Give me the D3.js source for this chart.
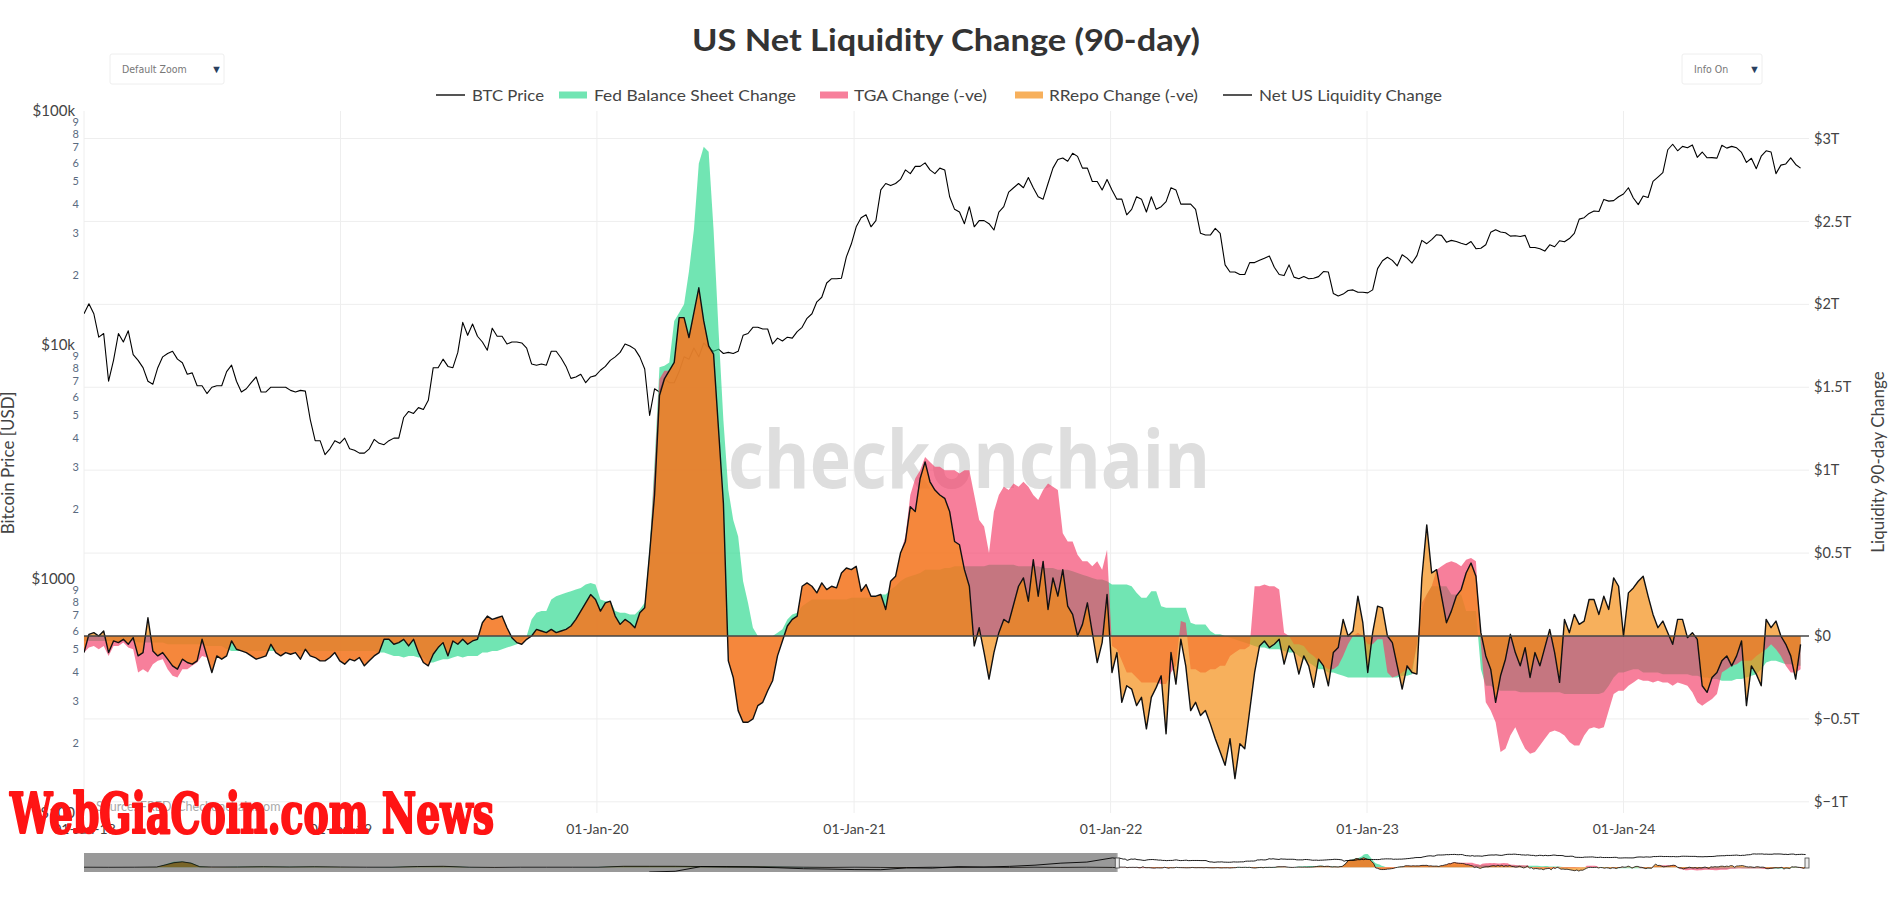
<!DOCTYPE html>
<html><head><meta charset="utf-8">
<script src="https://cdn.jsdelivr.net/npm/d3@7"></script>
<style>
html,body{margin:0;padding:0;background:#fff;}
svg{display:block;font-family:Lato,"Open Sans",sans-serif;}
</style>
</head><body>
<svg id="chart" width="1888" height="902"></svg>
<script>
// ---------------- DATA ----------------
const startDate = "2018-01-01";   // weekly samples
const weekStepDays = 7;
const viewEnd = "2024-09-21";
const sliderStart = "2007-12-18";

const btcPrice = [
13600,15000,13600,10800,11200,7000,8600,11200,10300,11500,9100,8600,8000,7000,6800,8000,8900,9200,9400,8700,8400,7500,7600,6700,6700,6200,6600,6700,6700,7700,8200,7000,6300,6500,6900,7300,6300,6300,6600,6600,6600,6600,6400,6300,6400,6350,4800,3900,3900,3400,3600,3900,3800,
4000,3600,3550,3450,3450,3600,3950,3800,3750,3900,4000,4000,4900,5200,5100,5400,5300,5800,8000,8000,8700,8100,8000,9300,12500,11000,12300,10900,10300,9500,11800,10900,10900,10100,10300,10300,10200,9700,8300,8200,8300,8200,9400,9400,8800,8100,7200,7300,7500,6900,7300,7400,
7800,8100,8600,8900,9300,10100,9900,9600,8900,7900,5000,6500,6300,7200,6900,6900,7700,8900,8700,9700,8900,10200,9700,9400,9600,9200,9300,9200,9400,11000,11200,11900,11900,11700,11700,10100,10700,10400,10800,10700,11400,11900,13000,13600,15300,16000,18400,19200,19200,19300,23800,27000,
32000,35000,36000,32000,34000,46000,49000,48000,49000,51000,56000,54000,58000,58000,60000,56000,54000,57000,56000,43000,38000,37000,33000,39000,32000,34000,34000,33000,31000,37000,39000,45000,47000,49000,47000,52000,47000,43000,42000,49000,57000,62000,63000,61000,66000,64000,57000,57000,50000,50000,46000,51000,
46000,42000,42000,36000,38000,43000,42000,37000,43000,38000,39000,41000,47000,46000,40000,40000,40000,38000,30000,29500,29500,31500,30000,22000,20500,20500,20000,20000,22500,22500,23000,23500,24000,21500,20000,19800,22000,19500,19200,19600,19200,19300,19600,20600,20500,16600,16200,16500,17100,17200,16800,16800,
16700,17200,21200,22900,23700,23000,21800,24300,23500,22400,24100,28000,27100,28200,29600,29400,27500,28000,27700,27200,26800,27700,25800,25900,26800,30300,31100,30400,30200,29200,29300,29100,29400,26100,26100,25800,25200,26800,26300,27900,27600,28500,30000,34500,35000,36500,37400,37200,41900,41200,41400,43000,
44200,47000,42500,39800,43300,42700,50000,52200,54500,68300,72100,67600,70600,69700,71600,63400,66800,63100,63200,62900,71400,69400,70600,69600,66500,60300,62800,56700,64100,67600,66800,54000,58700,59400,63000,59100,57000
];

// 90-day changes, $ trillions (stacked: fed -> +tga -> +rrepo = net)
const fedChange = [
-0.03,-0.03,-0.03,-0.03,-0.03,-0.03,-0.03,-0.03,-0.03,-0.03,-0.03,-0.04,-0.04,-0.04,-0.04,-0.04,-0.04,-0.05,-0.05,-0.05,-0.05,-0.05,-0.05,-0.05,-0.05,-0.06,-0.06,-0.06,-0.06,-0.08,
-0.09,-0.09,-0.09,-0.09,-0.09,-0.09,-0.09,-0.09,-0.09,-0.09,-0.09,-0.09,-0.09,-0.09,-0.09,-0.09,-0.09,-0.09,-0.09,-0.09,-0.09,-0.09,-0.09,-0.09,-0.09,-0.09,-0.09,-0.09,-0.09,-0.09,
-0.10,-0.10,-0.11,-0.12,-0.12,-0.13,-0.12,-0.12,-0.13,-0.13,-0.16,-0.16,-0.15,-0.14,-0.14,-0.13,-0.12,-0.13,-0.12,-0.12,-0.12,-0.10,-0.10,-0.09,-0.09,-0.08,-0.07,-0.06,-0.05,-0.03,0.00,
0.10,0.14,0.15,0.15,0.22,0.24,0.25,0.26,0.27,0.28,0.29,0.31,0.32,0.31,0.22,0.21,0.21,0.15,0.14,0.14,0.13,0.13,0.16,0.20,0.53,1.05,1.62,1.63,1.65,1.90,1.95,2.00,2.20,2.45,2.85,2.95,2.92,2.45,1.85,1.30,0.88,0.70,0.60,0.33,0.20,0.05,0.00,0.00,0.00,0.00,0.02,0.04,0.10,0.13,0.14,0.18,0.20,
0.22,0.22,0.22,0.22,0.22,0.22,0.22,0.22,0.23,0.23,0.23,0.23,0.23,0.24,0.25,0.25,0.28,0.30,0.33,0.35,0.36,0.37,0.38,0.40,0.40,0.40,0.40,0.41,0.41,0.42,0.42,0.42,0.42,
0.42,0.42,0.42,0.43,0.43,0.43,0.43,0.43,0.43,0.42,0.42,0.42,0.42,0.42,0.41,0.41,0.41,0.40,0.40,0.40,0.39,0.38,0.37,0.36,0.35,0.34,0.34,0.33,
0.31,0.31,0.31,0.31,0.30,0.26,0.23,0.23,0.27,0.27,0.18,0.17,0.17,0.17,0.17,0.17,0.08,0.07,0.07,0.07,0.03,0.01,0.01,0.00,-0.01,-0.02,-0.03,-0.04,-0.05,
-0.06,-0.07,-0.07,-0.08,-0.08,-0.08,-0.09,-0.10,-0.10,-0.12,-0.14,-0.16,-0.18,-0.20,-0.20,-0.22,-0.22,-0.23,-0.24,-0.25,-0.25,-0.25,-0.25,-0.25,-0.25,-0.25,-0.25,-0.25,-0.25,-0.25,-0.24,-0.24,
-0.23,-0.05,0.15,0.25,0.30,0.30,0.30,0.30,0.25,0.25,0.25,0.15,0.15,0.15,-0.20,-0.30,-0.30,-0.32,-0.33,-0.33,-0.33,-0.33,-0.34,-0.34,-0.34,-0.34,-0.34,-0.34,-0.34,-0.34,-0.34,
-0.35,-0.35,-0.35,-0.35,-0.35,-0.35,-0.35,-0.35,-0.34,-0.30,-0.25,-0.22,-0.22,-0.21,-0.20,-0.20,-0.22,-0.22,-0.22,-0.22,-0.23,-0.23,-0.23,-0.23,-0.23,-0.23,-0.24,-0.24,-0.25,-0.25,-0.26,-0.26,-0.27,-0.27,-0.27,-0.26,-0.26,-0.25,-0.24,-0.23,-0.20,-0.16,-0.15,-0.15,-0.16,-0.17,-0.17,-0.18,-0.18
];

const tgaChange = [
-0.07,-0.04,-0.03,-0.05,-0.03,-0.09,-0.03,-0.03,-0.01,-0.04,-0.05,-0.18,-0.16,-0.18,-0.13,-0.11,-0.10,-0.15,-0.19,-0.20,-0.15,-0.15,-0.13,-0.11,-0.07,-0.07,-0.16,-0.06,-0.08,-0.04,0.06,0.01,0.00,-0.01,
-0.03,-0.05,-0.04,-0.03,0.04,-0.01,-0.03,-0.01,-0.02,-0.01,-0.05,0.01,-0.03,-0.04,-0.06,-0.06,-0.04,-0.01,-0.06,-0.08,-0.05,-0.06,-0.04,-0.09,-0.06,-0.03,
0.00,0.08,0.09,0.07,0.08,0.11,0.06,0.10,0.03,-0.03,-0.02,0.05,0.08,0.10,0.02,0.10,0.07,0.11,0.07,0.09,0.10,0.18,0.22,0.19,0.20,0.20,0.12,0.05,0.01,-0.02,-0.02,
-0.10,-0.10,-0.12,-0.13,-0.18,-0.22,-0.22,-0.22,-0.21,-0.18,-0.14,-0.11,-0.07,-0.09,-0.07,-0.01,0.00,-0.03,-0.07,-0.04,-0.05,-0.08,-0.02,-0.03,-0.03,-0.05,-0.07,-0.03,-0.05,-0.25,
-0.03,-0.08,-0.40,-0.50,-0.75,-1.05,-1.17,-0.75,-0.60,-0.50,-1.03,-0.95,-1.05,-0.85,-0.72,-0.55,-0.42,-0.40,-0.33,-0.27,-0.14,-0.07,-0.04,-0.03,-0.02,0.12,0.12,0.08,0.04,0.10,
0.06,0.08,0.07,0.16,0.19,0.17,0.19,0.04,0.08,0.01,0.00,0.00,-0.09,0.05,0.06,0.17,0.25,0.49,0.58,0.62,0.68,0.65,0.62,0.62,0.59,0.59,0.58,0.56,0.58,0.58,
0.43,0.28,0.24,0.07,0.32,0.42,0.47,0.45,0.49,0.48,0.51,0.48,0.43,0.40,0.47,0.51,0.49,0.48,0.22,0.17,0.18,0.11,0.08,0.09,0.07,0.11,0.06,0.19,
-0.37,-0.39,-0.46,-0.53,-0.52,-0.51,-0.51,-0.51,-0.55,-0.55,-0.47,-0.46,-0.39,-0.35,-0.08,-0.09,-0.28,-0.27,-0.29,-0.29,-0.23,-0.21,-0.19,-0.18,-0.11,-0.08,-0.05,-0.04,-0.01,
0.36,0.37,0.38,0.38,0.38,0.36,0.11,0.10,0.05,0.07,0.08,0.06,0.06,0.05,0.02,0.02,0.02,0.05,0.12,0.20,0.25,0.27,0.25,0.20,0.20,0.23,0.23,0.03,0.00,0.01,0.02,0.04,
0.03,0.00,0.05,0.00,0.00,0.10,0.12,0.14,0.20,0.19,0.17,0.31,0.32,0.30,0.15,-0.10,-0.15,-0.20,-0.37,-0.35,-0.27,-0.22,-0.28,-0.34,-0.37,-0.36,-0.32,-0.28,-0.24,-0.23,-0.24,
-0.25,-0.29,-0.31,-0.31,-0.25,-0.21,-0.20,-0.21,-0.21,-0.15,-0.10,-0.11,-0.11,-0.09,-0.08,-0.06,-0.05,-0.05,-0.06,-0.05,-0.05,-0.05,-0.07,-0.05,-0.06,-0.07,-0.10,-0.16,-0.17,-0.15,-0.12,-0.09,0.05,0.07,0.09,0.09,0.11,0.10,0.09,0.11,0.10,0.08,0.10,0.07,0.04,-0.01,-0.05,-0.04,-0.02
];

const rrepoChange = [
0.00,0.08,0.08,0.08,0.09,0.02,0.03,0.02,0.02,0.02,0.07,0.10,0.10,0.33,0.08,0.03,0.04,0.06,0.06,0.05,0.06,0.04,0.01,0.01,0.10,0.01,0.00,0.00,0.00,0.00,0.00,0.00,0.00,0.00,
0.00,0.00,0.00,0.00,0.00,0.00,0.00,0.00,0.00,0.00,0.00,0.00,0.00,0.00,0.00,0.00,0.00,0.00,0.00,0.00,0.00,0.00,0.00,0.00,0.00,0.00,
0.00,0.00,0.00,0.00,0.00,0.00,0.00,0.00,0.00,0.00,0.00,0.00,0.00,0.00,0.00,0.00,0.00,0.00,0.00,0.00,0.00,0.00,0.00,0.00,0.00,0.00,0.00,0.00,0.00,0.00,0.00,
0.00,0.00,0.00,0.00,0.00,0.00,0.00,0.00,0.00,0.00,0.00,0.00,0.00,0.00,0.00,0.00,0.00,0.00,0.00,0.00,0.00,0.00,0.00,0.00,0.00,-0.15,-0.10,-0.05,0.00,0.00,
0.00,0.00,0.00,0.00,0.00,0.00,0.00,0.00,0.00,0.00,0.00,0.00,0.00,0.00,0.00,0.00,0.00,0.00,0.00,0.00,0.00,0.00,0.00,0.00,0.00,0.00,0.00,0.00,0.00,0.00,
0.00,0.00,0.00,0.00,0.00,0.00,0.00,0.00,0.00,0.00,0.00,0.00,0.00,0.00,0.00,0.00,-0.03,-0.07,-0.20,-0.05,-0.03,-0.12,-0.14,-0.17,-0.17,-0.25,-0.43,-0.43,-0.60,-0.70,
-0.91,-0.65,-0.76,-0.76,-0.85,-0.83,-0.80,-0.80,-0.73,-0.60,-0.58,-0.69,-0.39,-0.58,-0.43,-0.76,-0.55,-0.64,-0.22,-0.39,-0.44,-0.49,-0.38,-0.25,-0.40,-0.61,-0.44,-0.27,
-0.16,-0.02,-0.25,-0.08,-0.10,-0.17,-0.09,-0.28,-0.09,-0.03,0.05,-0.30,0.12,-0.11,-0.11,-0.26,-0.25,-0.20,-0.26,-0.23,-0.33,-0.42,-0.52,-0.60,-0.50,-0.76,-0.57,-0.60,-0.39,
-0.52,-0.36,-0.34,-0.37,-0.35,-0.30,-0.19,-0.06,-0.05,-0.18,-0.06,-0.08,-0.19,0.01,0.00,-0.10,0.10,0.11,0.22,0.05,0.03,0.22,0.08,-0.17,0.07,0.20,0.19,0.22,0.21,0.06,-0.10,0.02,
-0.02,-0.18,0.15,0.42,0.08,0.00,-0.18,-0.36,-0.30,-0.20,-0.14,-0.08,-0.03,-0.09,0.07,0.28,0.25,0.12,0.46,0.54,0.61,0.45,0.44,0.61,0.46,0.60,0.48,0.55,0.62,0.47,0.30,
0.70,0.66,0.79,0.73,0.69,0.78,0.77,0.69,0.79,0.61,0.70,0.63,0.33,0.56,0.57,0.59,0.63,0.51,0.41,0.32,0.37,0.30,0.25,0.38,0.39,0.29,0.36,0.38,0.12,0.06,0.13,0.13,0.07,0.08,0.00,0.05,0.12,-0.27,-0.03,-0.11,-0.20,0.18,0.10,0.17,0.12,0.13,0.10,-0.04,0.15
];

// pre-2018 history (range slider only)
const historyDates = ["2007-12-18","2008-03-15","2008-06-15","2008-09-01","2008-10-01","2008-11-01","2008-12-01","2009-01-01","2009-02-01","2009-03-15","2009-06-15","2009-09-15","2009-12-15","2010-03-15","2010-06-15","2010-09-15","2010-12-15","2011-03-15","2011-06-15","2011-09-15","2011-12-15","2012-03-15","2012-06-15","2012-09-15","2012-12-15","2013-03-15","2013-06-15","2013-09-15","2013-12-15","2014-03-15","2014-06-15","2014-09-15","2014-12-15","2015-03-15","2015-06-15","2015-09-15","2015-12-15","2016-03-15","2016-06-15","2016-09-15","2016-12-15","2017-03-15","2017-06-15","2017-09-15","2017-12-15"];
const historyFed = [0.0,0.0,0.0,0.05,0.6,1.2,1.3,1.0,0.2,0.0,0.1,0.15,0.1,0.15,0.05,0.0,0.05,0.2,0.25,0.05,0.0,0.0,0.0,-0.02,0.05,0.25,0.28,0.27,0.25,0.2,0.15,0.1,0.05,0.0,0.0,0.0,0.0,0.0,0.0,0.0,0.0,0.0,0.0,0.0,-0.03];
const historyNet = [0.0,-0.02,0.0,0.05,0.5,1.0,1.2,0.9,0.1,0.05,0.05,0.1,0.05,0.1,0.05,0.0,0.0,0.15,0.2,0.0,-0.05,0.0,0.0,0.0,0.0,0.2,0.2,0.2,0.15,0.15,0.1,0.05,0.0,-0.05,0.0,-0.05,-0.1,0.0,-0.05,0.0,-0.05,0.0,-0.05,0.0,-0.05];
const historyBtc = [null,null,null,null,null,null,null,null,null,null,null,null,null,null,null,0.06,0.25,0.9,17,5,3,5,6.5,12,13.5,47,100,130,700,620,590,470,330,290,240,230,450,415,700,610,780,1200,2500,3700,17000];

const xTickDates = ["2018-01-01","2019-01-01","2020-01-01","2021-01-01","2022-01-01","2023-01-01","2024-01-01"];
const xTickLabels = ["01-Jan-18","01-Jan-19","01-Jan-20","01-Jan-21","01-Jan-22","01-Jan-23","01-Jan-24"];
const liqTickValues = [-1,-0.5,0,0.5,1,1.5,2,2.5,3];
const liqTickLabels = ["$\u22121T","$\u22120.5T","$0","$0.5T","$1T","$1.5T","$2T","$2.5T","$3T"];
const btcMajorValues = [100,1000,10000,100000];
const btcMajorLabels = ["$100","$1000","$10k","$100k"];
const btcMinorDigits = [2,3,4,5,6,7,8,9];
const legendLabels = ["BTC Price","Fed Balance Sheet Change","TGA Change (-ve)","RRepo Change (-ve)","Net US Liquidity Change"];

// ---------------- STYLE ----------------
const fedFill = "rgba(46,216,143,0.68)";
const tgaFill = "rgba(243,58,101,0.65)";
const rrepoFill = "rgba(243,139,15,0.68)";
const plot = {left:84, right:1809, top:111, bottom:813};
const slider = {top:853, bottom:872};

// ---------------- BUILD ----------------
const svg = d3.select("#chart");
const parse = d3.utcParse("%Y-%m-%d");
const start = parse(startDate);
const dates = btcPrice.map((_, i) => d3.utcDay.offset(start, i * weekStepDays));
const rows = dates.map((date, i) => ({date, fed: fedChange[i], tga: tgaChange[i], rrepo: rrepoChange[i], btc: btcPrice[i]}));
const stacked = d3.stack().keys(["fed","tga","rrepo"])(rows);

const x = d3.scaleUtc().domain([start, parse(viewEnd)]).range([plot.left, plot.right]);
const yL = d3.scaleLinear().domain([-1.0675, 3.166]).range([plot.bottom, plot.top]);
const yB = d3.scaleLog().domain([100, 100000]).range([plot.bottom, plot.top]);

const defs = svg.append("defs");
defs.append("clipPath").attr("id","clipMain").append("rect")
  .attr("x",plot.left).attr("y",plot.top).attr("width",plot.right-plot.left).attr("height",plot.bottom-plot.top);
defs.append("clipPath").attr("id","clipMini").append("rect")
  .attr("x",plot.left).attr("y",slider.top).attr("width",plot.right-plot.left).attr("height",slider.bottom-slider.top);

// gridlines
const grid = svg.append("g");
grid.selectAll("line.h").data(liqTickValues.filter(v => v !== 0)).join("line")
  .attr("x1",plot.left).attr("x2",plot.right).attr("y1",d=>yL(d)).attr("y2",d=>yL(d))
  .attr("stroke","#eeeeee").attr("stroke-width",1);
grid.selectAll("line.v").data(xTickDates.map(parse)).join("line")
  .attr("x1",d=>x(d)).attr("x2",d=>x(d)).attr("y1",plot.top).attr("y2",plot.bottom)
  .attr("stroke","#eeeeee").attr("stroke-width",1);

// watermark (behind traces)
svg.append("text").attr("x",728).attr("y",488).text("checkonchain")
  .attr("font-family","'Open Sans',sans-serif").attr("font-weight",700).attr("font-size",80)
  .attr("fill","#dedede").attr("textLength",482).attr("lengthAdjust","spacingAndGlyphs");

const main = svg.append("g").attr("clip-path","url(#clipMain)");
// BTC price
main.append("path").datum(rows)
  .attr("d", d3.line().x(d=>x(d.date)).y(d=>yB(d.btc)))
  .attr("fill","none").attr("stroke","#000").attr("stroke-width",1.1).attr("stroke-linejoin","round");

const areaTop = d3.area().x(d=>x(d.data.date)).y0(yL(0)).y1(d=>yL(d[1]));
main.append("path").datum(stacked[0]).attr("d",areaTop).attr("fill",fedFill);
main.append("path").datum(stacked[1]).attr("d",areaTop).attr("fill",tgaFill);
main.append("path").datum(stacked[2]).attr("d",areaTop).attr("fill",rrepoFill);

// zero line
svg.append("line").attr("x1",plot.left).attr("x2",plot.right).attr("y1",yL(0)).attr("y2",yL(0))
  .attr("stroke","#444").attr("stroke-width",1.5);

// net line
main.append("path").datum(stacked[2])
  .attr("d", d3.line().x(d=>x(d.data.date)).y(d=>yL(d[1])))
  .attr("fill","none").attr("stroke","#111").attr("stroke-width",1.4).attr("stroke-linejoin","round");

// axes
const axR = svg.append("g").attr("transform",`translate(${plot.right},0)`)
  .call(d3.axisRight(yL).tickValues(liqTickValues).tickFormat((d,i)=>liqTickLabels[i]).tickSize(0).tickPadding(5));
axR.select(".domain").remove();
axR.selectAll("text").attr("font-size",14.5).attr("fill","#444").attr("font-family","Lato,sans-serif");

const axL = svg.append("g").attr("transform",`translate(${plot.left},0)`)
  .call(d3.axisLeft(yB).tickValues(btcMajorValues).tickFormat((d,i)=>btcMajorLabels[i]).tickSize(0).tickPadding(9));
axL.select(".domain").remove();
axL.selectAll("text").attr("font-size",15).attr("fill","#444").attr("font-family","Lato,sans-serif");

const minorVals = [];
btcMajorValues.slice(0,3).forEach(base => btcMinorDigits.forEach(dg => minorVals.push(base*dg)));
const axLm = svg.append("g").attr("transform",`translate(${plot.left},0)`)
  .call(d3.axisLeft(yB).tickValues(minorVals).tickFormat(d => String(Math.round(d / Math.pow(10, Math.floor(Math.log10(d)+1e-9))))).tickSize(0).tickPadding(5));
axLm.select(".domain").remove();
axLm.selectAll("text").attr("font-size",11).attr("fill","#5a6a80").attr("font-family","Lato,sans-serif");

const axB = svg.append("g").attr("transform",`translate(0,${plot.bottom})`)
  .call(d3.axisBottom(x).tickValues(xTickDates.map(parse)).tickFormat((d,i)=>xTickLabels[i]).tickSize(0).tickPadding(11));
axB.select(".domain").remove();
axB.selectAll("text").attr("font-size",14).attr("fill","#444").attr("font-family","Lato,sans-serif");

// axis titles
svg.append("text").attr("transform","translate(14,463) rotate(-90)").attr("text-anchor","middle")
  .attr("font-size",17).attr("fill","#444").text("Bitcoin Price [USD]");
svg.append("text").attr("transform","translate(1884,462) rotate(-90)").attr("text-anchor","middle")
  .attr("font-size",17).attr("fill","#444").text("Liquidity 90-day Change");

// title
svg.append("text").attr("x",946).attr("y",51).attr("text-anchor","middle")
  .attr("font-size",30).attr("font-weight",700).attr("fill","#333")
  .attr("textLength",508).attr("lengthAdjust","spacingAndGlyphs")
  .text("US Net Liquidity Change (90-day)");

// legend
const legendPos = [
  {sx:436, tx:472, w:72, kind:"line", color:"#555"},
  {sx:559, tx:594, w:202, kind:"rect", color:fedFill},
  {sx:820, tx:854, w:133, kind:"rect", color:tgaFill},
  {sx:1015, tx:1049, w:149, kind:"rect", color:rrepoFill},
  {sx:1223, tx:1259, w:183, kind:"line", color:"#555"}
];
const lg = svg.append("g");
legendLabels.forEach((lab,i) => {
  const p = legendPos[i];
  if (p.kind === "line") lg.append("line").attr("x1",p.sx).attr("x2",p.sx+29).attr("y1",95).attr("y2",95).attr("stroke",p.color).attr("stroke-width",2);
  else lg.append("rect").attr("x",p.sx).attr("y",91.5).attr("width",28).attr("height",7).attr("fill",p.color);
  lg.append("text").attr("x",p.tx).attr("y",100.7).attr("font-size",16).attr("fill","#444")
    .attr("textLength",p.w).attr("lengthAdjust","spacingAndGlyphs").text(lab);
});

// dropdown menus
function dropdown(x0, w, label) {
  const g = svg.append("g");
  g.append("rect").attr("x",x0).attr("y",54).attr("width",w).attr("height",30).attr("rx",2)
    .attr("fill","#fff").attr("stroke","#eeeeee");
  g.append("text").attr("x",x0+12).attr("y",73).attr("font-size",10.5).attr("fill","#777")
    .attr("font-family","'DejaVu Sans Condensed',sans-serif").text(label);
  g.append("text").attr("x",x0+w-13).attr("y",73).attr("font-size",11).attr("fill","#2a3f5f").text("\u25BC");
}
dropdown(110, 114, "Default Zoom");
dropdown(1682, 80, "Info On");

// source note
svg.append("text").attr("x",96).attr("y",811).attr("font-size",12.5).attr("fill","#aaa").text("Source: FRED, Checkonchain.com");

// ---------------- RANGE SLIDER ----------------
const xm = d3.scaleUtc().domain([parse(sliderStart), parse(viewEnd)]).range([plot.left, plot.right]);
const ymL = d3.scaleLinear().domain(yL.domain()).range([slider.bottom, slider.top]);
const ymB = d3.scaleLog().domain(yB.domain()).range([slider.bottom, slider.top]).clamp(true);
const histRows = historyDates.map((s,i) => ({date: parse(s), fed: historyFed[i], net: historyNet[i], btc: historyBtc[i]}));
const miniRows = histRows.concat(rows.map((r,i) => ({date: r.date, fed: r.fed, pink: stacked[1][i][1], net: stacked[2][i][1], btc: r.btc})));
const mini = svg.append("g").attr("clip-path","url(#clipMini)");
mini.append("rect").attr("x",plot.left).attr("y",slider.top).attr("width",plot.right-plot.left).attr("height",slider.bottom-slider.top).attr("fill","#fff");
mini.append("path").datum(miniRows).attr("d", d3.area().x(d=>xm(d.date)).y0(ymL(0)).y1(d=>ymL(d.fed))).attr("fill",fedFill);
mini.append("path").datum(miniRows.filter(d=>d.pink!==undefined)).attr("d", d3.area().x(d=>xm(d.date)).y0(ymL(0)).y1(d=>ymL(d.pink))).attr("fill",tgaFill);
mini.append("path").datum(miniRows).attr("d", d3.area().x(d=>xm(d.date)).y0(ymL(0)).y1(d=>ymL(d.net))).attr("fill",rrepoFill);
mini.append("path").datum(miniRows).attr("d", d3.line().x(d=>xm(d.date)).y(d=>ymL(d.net))).attr("fill","none").attr("stroke","#111").attr("stroke-width",0.8);
mini.append("path").datum(miniRows).attr("d", d3.line().defined(d=>d.btc!=null && d.btc>=100).x(d=>xm(d.date)).y(d=>ymB(d.btc))).attr("fill","none").attr("stroke","#000").attr("stroke-width",0.9);
mini.append("rect").attr("x",plot.left).attr("y",slider.top).attr("width",xm(start)-plot.left).attr("height",slider.bottom-slider.top).attr("fill","rgba(0,0,0,0.4)");
svg.append("line").attr("x1",xm(start)).attr("x2",xm(start)).attr("y1",slider.top).attr("y2",slider.bottom).attr("stroke","#bbb").attr("stroke-width",1);
svg.append("rect").attr("x",plot.right-4).attr("y",858).attr("width",4).attr("height",10).attr("fill","#eee").attr("stroke","#444").attr("stroke-width",0.8);
svg.append("rect").attr("x",xm(start)-2).attr("y",858).attr("width",4).attr("height",10).attr("fill","#eee").attr("stroke","#444").attr("stroke-width",0.8);

// overlay watermark of reposting site
svg.append("text").attr("x",10).attr("y",833).text("WebGiaCoin.com News")
  .attr("font-family","'DejaVu Serif Condensed','DejaVu Serif',serif").attr("font-weight",700).attr("font-size",56)
  .attr("fill","#ff1414").attr("stroke","#ff1414").attr("stroke-width",2.2).attr("stroke-linejoin","round")
  .attr("textLength",484).attr("lengthAdjust","spacingAndGlyphs");

// sanity check
const lens = [btcPrice.length, fedChange.length, tgaChange.length, rrepoChange.length];
if (new Set(lens).size !== 1) svg.append("text").attr("x",600).attr("y",880).attr("fill","red").attr("font-size",16).text("LEN " + lens.join(","));
if (historyDates.length !== historyFed.length || historyDates.length !== historyNet.length || historyDates.length !== historyBtc.length)
  svg.append("text").attr("x",900).attr("y",880).attr("fill","red").attr("font-size",16).text("HIST LEN");
</script>
</body></html>
